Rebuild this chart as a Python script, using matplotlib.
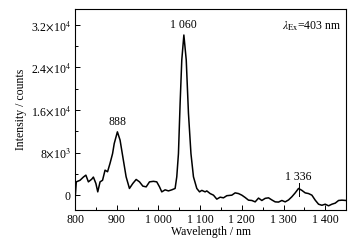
import matplotlib
matplotlib.use("Agg")
import matplotlib.pyplot as plt
from matplotlib.ticker import MultipleLocator

plt.rcParams["font.family"] = ["Liberation Serif", "DejaVu Serif"]
plt.rcParams["mathtext.fontset"] = "stix"

# spectrum
wavelength = [800, 803, 806, 812, 820, 826, 832, 840, 844, 850, 854.5, 860, 866, 872, 878,
              884, 890, 894, 901.6, 908, 914.6, 922.5, 930.5, 938.6, 946.6, 954.6, 962.6,
              970.6, 978.6, 988, 996, 1002.6, 1008, 1016, 1024, 1032, 1040, 1044, 1048,
              1052, 1056, 1061, 1066.7, 1072, 1078, 1084, 1092, 1098.6, 1104, 1112, 1116,
              1124, 1132, 1140, 1148, 1156, 1164, 1176, 1184, 1192, 1200, 1208, 1216, 1224,
              1232, 1240, 1248, 1256, 1264, 1272, 1280, 1288, 1296, 1304, 1312, 1320, 1328,
              1336, 1344, 1352, 1360, 1368, 1376, 1384, 1392, 1400, 1408, 1416, 1424, 1432,
              1440, 1450]
intensity = [-900, 2500, 2600, 2800, 3400, 3760, 2500, 3000, 3400, 2200, 620, 2500, 2800,
             4700, 4400, 6000, 7800, 9700, 11900, 10350, 7200, 3450, 1260, 2200, 2950, 2500,
             1700, 1560, 2500, 2600, 2500, 1560, 620, 1000, 800, 1000, 1260, 3450, 7800,
             17250, 25400, 30100, 25400, 15400, 7800, 3450, 1260, 620, 900, 620, 800, 300,
             0, -750, -380, -500, -100, 0, 430, 300, 0, -440, -940, -1000, -1260, -550,
             -1000, -600, -500, -900, -1260, -1300, -1000, -1260, -900, -300, 430, 1260,
             900, 430, 300, 0, -940, -1700, -1900, -1700, -2000, -1700, -1500, -1000, -940,
             -1000]

yticks = [0, 8000, 16000, 24000, 32000]
ytick_labels = ["0", r"8$\times$10$^3$", r"1.6$\times$10$^4$", r"2.4$\times$10$^4$",
                r"3.2$\times$10$^4$"]
xticks = [800, 900, 1000, 1100, 1200, 1300, 1400]
xtick_labels = ["800", "900", "1 000", "1 100", "1 200", "1 300", "1 400"]

fs = 8.5
fig = plt.figure(figsize=(3.59, 2.42), dpi=100)
ax = fig.add_axes([0.209, 0.132, 0.755, 0.831])
ax.plot(wavelength, intensity, color="black", lw=1.1)

ax.set_xlim(800, 1450)
ax.set_ylim(-2800, 35000)
ax.set_xticks(xticks)
ax.set_xticklabels(xtick_labels)
ax.set_yticks(yticks)
ax.set_yticklabels(ytick_labels)
ax.xaxis.set_minor_locator(MultipleLocator(50))
ax.yaxis.set_minor_locator(MultipleLocator(4000))
ax.tick_params(which="both", direction="in", labelsize=fs, width=0.7)
ax.tick_params(which="major", length=3.5, pad=3)
ax.tick_params(which="minor", length=2)
for s in ax.spines.values():
    s.set_linewidth(0.8)

ax.set_xlabel("Wavelength / nm", fontsize=fs, labelpad=0)
ax.set_ylabel("Intensity / counts", fontsize=fs, labelpad=3)

ax.text(901.6, 12700, "888", ha="center", va="bottom", fontsize=fs)
ax.text(1061, 30900, "1 060", ha="center", va="bottom", fontsize=fs)
ax.text(1336, 2300, "1 336", ha="center", va="bottom", fontsize=fs)
ax.plot([1336, 1336], [-100, 2200], color="black", lw=0.7)
ax.text(1437, 31800, r"$\lambda_{\rm Ex}$=403 nm", ha="right", va="center", fontsize=fs)

fig.savefig("out.png", dpi=100)
